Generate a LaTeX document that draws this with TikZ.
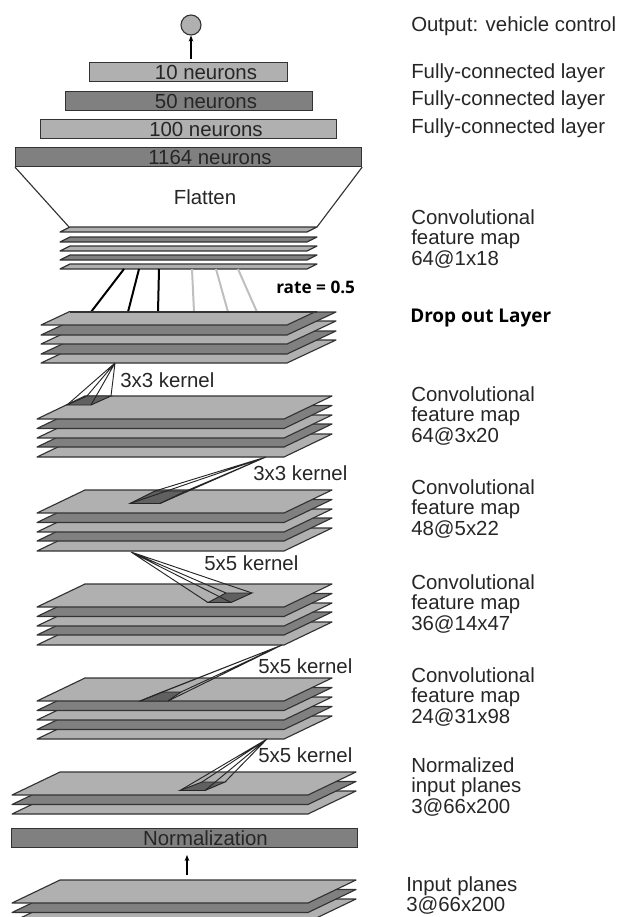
\documentclass[tikz,border=0pt]{standalone}
\usepackage{fontspec}
\setmainfont{Liberation Sans}
\newfontfamily\boldlabel{Open Sans}[BoldFont={Open Sans Bold}]
\definecolor{lightplate}{gray}{0.69}
\definecolor{darkplate}{gray}{0.5}
\definecolor{edgecol}{gray}{0.2}
\definecolor{droplight}{gray}{0.75}
\usetikzlibrary{arrows.meta}
\tikzset{
  plateline/.style={draw=edgecol,line width=0.85pt,line join=round},
  bar/.style={draw=edgecol,line width=0.85pt,minimum height=14.25pt,inner sep=0pt,anchor=north west},
  lightbar/.style={bar,fill=lightplate},
  darkbar/.style={bar,fill=darkplate},
  lab/.style={anchor=north west,align=left,inner sep=0pt,font=\fontsize{15.3}{15.6}\selectfont,text=black!85},
  klab/.style={anchor=west,inner sep=0pt,font=\fontsize{15.3}{16}\selectfont,text=black!85},
  bartext/.style={font=\fontsize{15.3}{16}\selectfont,text=black!85},
  kernline/.style={draw=black!85,line width=0.7pt},
  arr/.style={draw=black,line width=1.1pt,-{Stealth[length=4.5pt,width=3.5pt]}},
  dropblack/.style={draw=black,line width=1.5pt},
  dropgrey/.style={draw=droplight,line width=1.5pt},
}
% \plate{left}{right}{bottom y}{dx}{dy}{colour}
\newcommand{\plate}[6]{\path[plateline,fill=#6] (#1,#3) -- (#2,#3) -- ({#2+#4},{#3-#5}) -- ({#1+#4},{#3-#5}) -- cycle;}
% five-plate stack, bottoms from top to bottom
\newcommand{\fivestack}[5]{%
  \plate{37}{284}{#5}{48}{23}{lightplate}
  \plate{37}{284}{#4}{48}{23}{darkplate}
  \plate{37}{284}{#3}{48}{23}{lightplate}
  \plate{37}{284}{#2}{48}{23}{darkplate}
  \plate{37}{284}{#1}{48}{23}{lightplate}}
\newcommand{\threestack}[3]{%
  \plate{12}{308}{#3}{48}{23}{lightplate}
  \plate{12}{308}{#2}{48}{23}{darkplate}
  \plate{12}{308}{#1}{48}{23}{lightplate}}
% \kernel{apex}{p1}{p2}{p3}{p4}
\newcommand{\kernel}[5]{%
  \path[kernline,fill=darkplate!75!black] #2 -- #3 -- #4 -- #5 -- cycle;
  \draw[kernline] #1 -- #2 #1 -- #3 #1 -- #4 #1 -- #5;}
\begin{document}
\begin{tikzpicture}[x=0.75pt,y=-0.75pt]
\useasboundingbox (0,0) rectangle (617,917);
\clip (0,0) rectangle (617,917);
% output
\node[circle,draw=edgecol,fill=lightplate,line width=0.85pt,minimum size=15pt,inner sep=0pt] (out) at (191,25) {};
\coordinate (a1) at (191,59);
\draw[arr] (a1) -- (out.south);
% dense
\node[lightbar,minimum width=148.5pt] (d10) at (89,62) {};
\node[bartext] at (206,72) {10 neurons};
\node[darkbar,minimum width=185pt] (d50) at (65,91) {};
\node[bartext] at (206,101) {50 neurons};
\node[lightbar,minimum width=222pt] (d100) at (40,119) {};
\node[bartext] at (206,129) {100 neurons};
\node[darkbar,minimum width=259.5pt] (d1164) at (15,147) {};
\node[bartext] at (210,157) {1164 neurons};
% flatten
\coordinate (fl) at (69,227); \coordinate (fr) at (317,227);
\draw[plateline] (d1164.south west) -- (fl) (d1164.south east) -- (fr);
\node[bartext] at (205,197) {Flatten};
% flat plates
\plate{60}{307}{232}{10}{5}{lightplate}
\plate{60}{307}{242}{10}{5}{darkplate}
\plate{60}{307}{251}{10}{5}{lightplate}
\plate{60}{307}{260}{10}{5}{darkplate}
\plate{60}{307}{269}{10}{5}{lightplate}
% dropout lines
\coordinate (u1) at (124,269); \coordinate (v1) at (91,312);
\coordinate (u2) at (139,269); \coordinate (v2) at (128,312);
\coordinate (u3) at (159,269); \coordinate (v3) at (158,312);
\coordinate (u4) at (192,269); \coordinate (v4) at (194,312);
\coordinate (u5) at (216,269); \coordinate (v5) at (228,312);
\coordinate (u6) at (238,269); \coordinate (v6) at (257,312);
\draw[dropblack] (u1)--(v1) (u2)--(v2) (u3)--(v3);
\draw[dropgrey] (u4)--(v4) (u5)--(v5) (u6)--(v6);
\node[anchor=west,inner sep=0pt,font=\boldlabel\bfseries\fontsize{12.9}{14}\selectfont] at (276,287) {rate = 0.5};
% dropout stack
\begin{scope}
\clip (0,311.5) rectangle (617,363.5);
\plate{41}{287}{363}{49}{23}{lightplate}
\plate{41}{287}{354}{49}{23}{darkplate}
\plate{41}{287}{344}{49}{23}{lightplate}
\plate{41}{287}{335}{49}{23}{darkplate}
\plate{41}{287}{325}{49}{23}{lightplate}
\end{scope}
\draw[plateline] (70,312) -- (317,312);
% stacks
\fivestack{419}{428.5}{438}{447}{457}
\fivestack{513}{522.5}{532}{541}{551}
\fivestack{607}{616.5}{626}{635}{645}
\fivestack{701}{710.5}{720}{729.5}{739}
\threestack{795}{804.5}{814}
\threestack{903}{912.5}{922}
% kernels
\kernel{(115,363)}{(67,405)}{(91,405)}{(111,396)}{(87,396)}
\kernel{(266,457)}{(130,503.5)}{(160,503.5)}{(186,491)}{(155,491)}
\kernel{(131,552)}{(208,602.5)}{(231,602.5)}{(252,593)}{(226,593)}
\kernel{(282,645)}{(140,701)}{(168,701)}{(181,692)}{(162,692)}
\kernel{(267,739)}{(180,790.5)}{(205,790.5)}{(225,782)}{(202,782)}
\node[klab] at (120,380) {3x3 kernel};
\node[klab] at (253,473) {3x3 kernel};
\node[klab] at (204,563) {5x5 kernel};
\node[klab] at (258,666) {5x5 kernel};
\node[klab] at (258,755) {5x5 kernel};
% normalization
\node[darkbar,minimum width=259.5pt] (norm) at (11,828) {};
\node[bartext] at (205.5,838) {Normalization};
\coordinate (a2) at (187,875); \coordinate (a3) at (187,855);
\draw[arr] (a2) -- (a3);
% right labels
\node[lab] at (411,16) {Output: vehicle control};
\node[lab] at (411,63) {Fully-connected layer};
\node[lab] at (411,90) {Fully-connected layer};
\node[lab] at (411,118) {Fully-connected layer};
\node[lab] at (411,209) {Convolutional\\feature map\\64@1x18};
\node[anchor=west,inner sep=0pt,font=\boldlabel\bfseries\fontsize{14.2}{16}\selectfont] at (410,318) {Drop out Layer};
\node[lab] at (411,386) {Convolutional\\feature map\\64@3x20};
\node[lab] at (411,479) {Convolutional\\feature map\\48@5x22};
\node[lab] at (411,574) {Convolutional\\feature map\\36@14x47};
\node[lab] at (411,667) {Convolutional\\feature map\\24@31x98};
\node[lab] at (411,757) {Normalized\\input planes\\3@66x200};
\node[lab] at (406,876) {Input planes\\3@66x200};
\end{tikzpicture}
\end{document}
